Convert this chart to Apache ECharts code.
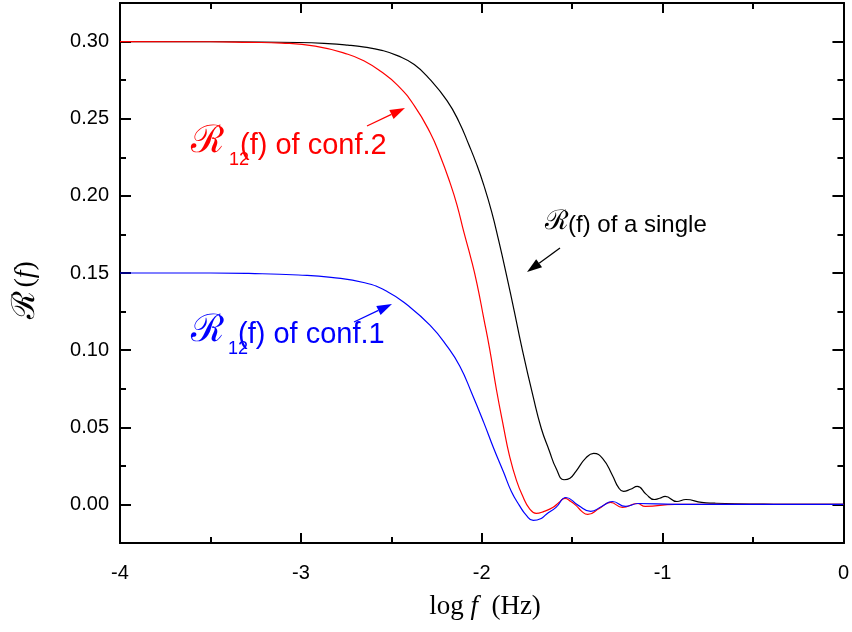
<!DOCTYPE html>
<html><head><meta charset="utf-8">
<script src="https://cdn.jsdelivr.net/npm/echarts@6/dist/echarts.min.js"></script>
<style>html,body{margin:0;padding:0;background:#fff}#c{width:852px;height:632px}</style>
</head><body><div id="c"></div>
<script>
// ---- data (log f, R) ----
const xSingle = [-4, -3.5, -3.014, -2.850, -2.740, -2.647, -2.559, -2.466, -2.373, -2.285, -2.192, -2.126, -2.071, -2.027, -1.989, -1.945, -1.907, -1.863, -1.819, -1.781, -1.715, -1.671, -1.627, -1.589, -1.545, -1.512, -1.479, -1.425, -1.381, -1.332, -1.277, -1.244, -1.216, -1.178, -1.140, -1.090, -1.047, -1.016, -0.986, -0.921, -0.871, -0.784, -0.712, -0.600, -0.384, -0.2, 0];
const ySingle = [0.300, 0.2999, 0.2994, 0.2987, 0.2977, 0.2964, 0.2945, 0.2909, 0.2851, 0.2753, 0.2617, 0.2481, 0.2331, 0.2201, 0.2071, 0.1896, 0.1714, 0.1487, 0.1247, 0.1032, 0.0695, 0.0494, 0.0350, 0.0235, 0.0160, 0.0170, 0.0215, 0.0300, 0.0331, 0.0299, 0.0188, 0.0110, 0.0084, 0.0098, 0.0117, 0.0065, 0.0032, 0.0040, 0.0052, 0.0019, 0.0032, 0.0013, 0.0008, 0.0004, 0.0001, 0.0000, 0.0000];

const xConf2 = [-4, -3.5, -3.288, -3.107, -2.921, -2.740, -2.647, -2.559, -2.466, -2.373, -2.285, -2.230, -2.175, -2.137, -2.099, -2.060, -2.027, -1.989, -1.956, -1.918, -1.879, -1.847, -1.808, -1.770, -1.737, -1.699, -1.655, -1.605, -1.573, -1.540, -1.507, -1.479, -1.447, -1.414, -1.350, -1.288, -1.222, -1.140, -1.096, -0.932, -0.5, 0];
const yConf2 = [0.300, 0.2999, 0.2995, 0.2990, 0.2970, 0.2918, 0.2872, 0.2807, 0.2718, 0.2585, 0.2409, 0.2260, 0.2084, 0.1942, 0.1766, 0.1597, 0.1435, 0.1208, 0.1006, 0.0740, 0.0500, 0.0318, 0.0156, 0.0045, -0.0026, -0.0058, -0.0045, -0.0019, 0.0013, 0.0039, 0.0019, -0.0006, -0.0045, -0.0065, -0.0026, 0.0013, -0.0019, 0.0006, -0.0013, 0.0000, 0.0000, 0.0000];

const xConf1 = [-4, -3.5, -3.288, -3.014, -2.833, -2.647, -2.521, -2.411, -2.285, -2.192, -2.121, -2.055, -1.989, -1.934, -1.879, -1.836, -1.792, -1.753, -1.715, -1.671, -1.644, -1.589, -1.534, -1.466, -1.397, -1.337, -1.277, -1.205, -1.134, -0.932, -0.5, 0];
const yConf1 = [0.150, 0.1500, 0.1497, 0.1487, 0.1472, 0.1437, 0.1379, 0.1292, 0.1160, 0.1026, 0.0896, 0.0721, 0.0532, 0.0364, 0.0208, 0.0084, -0.0006, -0.0071, -0.0104, -0.0091, -0.0065, -0.0019, 0.0045, -0.0006, -0.0045, -0.0013, 0.0019, -0.0013, 0.0006, 0.0000, 0.0000, 0.0000];

const yMajorTicks = [0, 0.05, 0.10, 0.15, 0.20, 0.25, 0.30];
const yMinorTicks = [-0.025, 0.025, 0.075, 0.125, 0.175, 0.225, 0.275, 0.325];
const xTicks = [-4, -3, -2, -1, 0];

const pairs = (xs, ys) => xs.map((x, i) => [x, ys[i]]);

const chart = echarts.init(document.getElementById('c'), null, {renderer: 'canvas'});
const axisLine = {show: true, onZero: false, lineStyle: {color: '#000', width: 2}};
const labelFont = {fontFamily: 'Liberation Sans, Arial, sans-serif', fontSize: 20, color: '#000'};
const YMIN = -0.025, YMAX = 0.325;

function yAx(pos, ticks, len, showLabel) {
  return {
    type: 'value', position: pos, min: YMIN, max: YMAX, offset: 0,
    axisLine: axisLine,
    splitLine: {show: false},
    axisTick: {show: true, inside: true, length: len, customValues: ticks, lineStyle: {color: '#000', width: 2}},
    axisLabel: showLabel ? Object.assign({show: true, margin: 11, customValues: ticks,
      formatter: v => v.toFixed(2)}, labelFont) : {show: false}
  };
}
function xAx(pos, showLabel) {
  return {
    type: 'value', position: pos, min: xTicks[0], max: xTicks[xTicks.length - 1], interval: 1,
    axisLine: axisLine,
    splitLine: {show: false},
    axisTick: {show: true, inside: true, length: 10, lineStyle: {color: '#000', width: 2}},
    minorTick: {show: true, splitNumber: 2, length: 6, lineStyle: {color: '#000', width: 2}},
    minorSplitLine: {show: false},
    axisLabel: showLabel ? Object.assign({show: true, margin: 20, formatter: v => String(v)}, labelFont) : {show: false}
  };
}

const lineSeries = (name, data, color) => ({
  name, type: 'line', data, xAxisIndex: 0, yAxisIndex: 0,
  showSymbol: false, symbol: 'none', smooth: 0.5, animation: false,
  lineStyle: {color, width: 1.2}, z: 3
});

function arrow(x1, y1, x2, y2, color) {
  const dx = x2 - x1, dy = y2 - y1, L = Math.hypot(dx, dy);
  const ux = dx / L, uy = dy / L, hl = 15, hw = 5;
  const bx = x2 - ux * hl, by = y2 - uy * hl;
  return [
    {type: 'line', shape: {x1, y1, x2: bx, y2: by}, style: {stroke: color, lineWidth: 1.3}, z: 10},
    {type: 'polygon', shape: {points: [[x2, y2], [bx - uy * hw, by + ux * hw], [bx + uy * hw, by - ux * hw]]},
     style: {fill: color}, z: 10}
  ];
}
function txt(x, y, text, size, color, family, extra) {
  return {type: 'text', x, y, z: 10, style: Object.assign({text, fontSize: size, fill: color,
    fontFamily: family || 'Liberation Sans, Arial, sans-serif', verticalAlign: 'middle', align: 'left'}, extra || {})};
}
const SCRIPT = 'DejaVu Serif, serif';

chart.setOption({
  animation: false,
  backgroundColor: '#fff',
  grid: {left: 120, right: 2, top: 3, bottom: 89, containLabel: false},
  xAxis: [xAx('bottom', true), xAx('top', false)],
  yAxis: [yAx('left', yMajorTicks, 11, true), yAx('right', yMajorTicks, 11, false),
          yAx('left', yMinorTicks, 6, false), yAx('right', yMinorTicks, 6, false)],
  series: [
    lineSeries('single', pairs(xSingle, ySingle), '#000000'),
    lineSeries('conf.2', pairs(xConf2, yConf2), '#ff0000'),
    lineSeries('conf.1', pairs(xConf1, yConf1), '#0000ff')
  ],
  graphic: [
    // red annotation
    txt(191, 142, 'ℛ', 38, '#ff0000', SCRIPT),
    txt(229, 160, '12', 18, '#ff0000'),
    txt(240, 146, '(f) of conf.2', 29, '#ff0000'),
    ...arrow(367, 126, 405, 108, '#ff0000'),
    // blue annotation
    txt(191, 331, 'ℛ', 38, '#0000ff', SCRIPT),
    txt(228, 349, '12', 18, '#0000ff'),
    txt(238, 335, '(f) of conf.1', 29, '#0000ff'),
    ...arrow(354, 322, 392, 304, '#0000ff'),
    // black annotation
    txt(545, 222, 'ℛ', 27, '#000000', SCRIPT),
    txt(568, 225, '(f) of a single', 24, '#000000'),
    ...arrow(560, 248, 527, 272, '#000000'),
    // axis titles
    {type: 'text', x: 26, y: 290, rotation: Math.PI / 2, z: 10,
     style: {text: '{r|ℛ} {p|(}{f|f}{p|)}', align: 'center', verticalAlign: 'middle',
       rich: {r: {fontFamily: SCRIPT, fontSize: 32, fill: '#000'},
              p: {fontFamily: 'Liberation Serif, serif', fontSize: 28, fill: '#000'},
              f: {fontFamily: 'Liberation Serif, serif', fontStyle: 'italic', fontSize: 28, fill: '#000'}}}},
    {type: 'text', x: 485, y: 607, z: 10,
     style: {text: '{n|log }{f|f}{n|  (Hz)}', align: 'center', verticalAlign: 'middle',
       rich: {n: {fontFamily: 'Liberation Serif, serif', fontSize: 27, fill: '#000'},
              f: {fontFamily: 'Liberation Serif, serif', fontStyle: 'italic', fontSize: 27, fill: '#000'}}}}
  ]
});
</script>
</body></html>
